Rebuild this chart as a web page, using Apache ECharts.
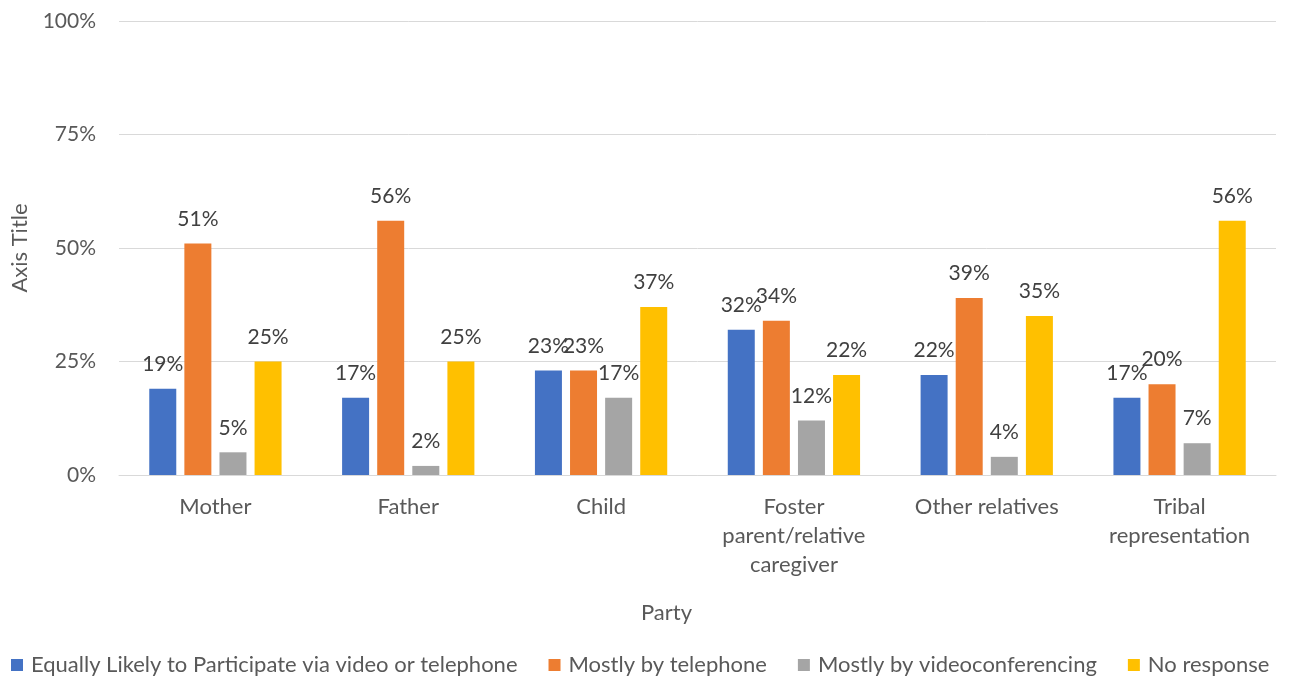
<!DOCTYPE html>
<html>
<head>
<meta charset="utf-8">
<script src="https://cdn.jsdelivr.net/npm/echarts@6/dist/echarts.min.js"></script>
<style>
  html, body { margin: 0; padding: 0; background: #fff; }
  #chart { width: 1290px; height: 677px; }
</style>
</head>
<body>
<div id="chart"></div>
<script>
// Parties (axis categories, wrapped as they are shown)
const categories = [
  'Mother',
  'Father',
  'Child',
  'Foster\nparent/relative\ncaregiver',
  'Other relatives',
  'Tribal\nrepresentation'
];

// Share of responses per party, in percent
const equallyLikely = [19, 17, 23, 32, 22, 17];
const mostlyTelephone = [51, 56, 23, 34, 39, 20];
const mostlyVideo = [5, 2, 17, 12, 4, 7];
const noResponse = [25, 25, 37, 22, 35, 56];

const seriesNames = [
  'Equally Likely to Participate via video or telephone',
  'Mostly by telephone',
  'Mostly by videoconferencing',
  'No response'
];
const seriesColors = ['#4472C4', '#ED7D31', '#A5A5A5', '#FFC000'];
const seriesData = [equallyLikely, mostlyTelephone, mostlyVideo, noResponse];

const yTicks = [0, 25, 50, 75, 100];

const FONT = 'Lato, "Open Sans", sans-serif';
const NUM_SIZE = 21;
const WORD_SIZE = 22;

const chart = echarts.init(document.getElementById('chart'), null, { renderer: 'canvas' });

chart.setOption({
  animation: false,
  textStyle: { fontFamily: FONT },
  grid: { left: 119, right: 14, top: 21, bottom: 202, containLabel: false },
  legend: {
    top: 649,
    left: 6,
    itemWidth: 12,
    itemHeight: 12,
    itemGap: 31,
    icon: 'rect',
    textStyle: { fontFamily: FONT, fontSize: WORD_SIZE, color: '#595959', padding: [0, 0, 0, 3] },
    data: seriesNames
  },
  xAxis: {
    type: 'category',
    data: categories,
    name: 'Party',
    nameLocation: 'middle',
    nameGap: 127,
    nameTextStyle: { fontFamily: FONT, fontSize: WORD_SIZE, color: '#595959', padding: [0, 62, 0, 0] },
    axisLine: { lineStyle: { color: '#D9D9D9', width: 1 } },
    axisTick: { show: false },
    axisLabel: {
      fontFamily: FONT,
      fontSize: WORD_SIZE,
      color: '#595959',
      margin: 17,
      lineHeight: 29,
      interval: 0
    }
  },
  yAxis: {
    type: 'value',
    min: 0,
    max: 100,
    interval: 25,
    name: 'Axis Title',
    nameLocation: 'middle',
    nameGap: 88,
    nameRotate: 90,
    nameTextStyle: { fontFamily: FONT, fontSize: WORD_SIZE, color: '#595959' },
    axisLine: { show: false },
    axisTick: { show: false },
    splitLine: { lineStyle: { color: '#D9D9D9', width: 1 } },
    axisLabel: {
      fontFamily: FONT,
      fontSize: NUM_SIZE,
      color: '#595959',
      margin: 23,
      formatter: v => (yTicks.includes(v) ? v + '%' : '')
    }
  },
  series: seriesNames.map((name, i) => ({
    name: name,
    type: 'bar',
    data: seriesData[i],
    barWidth: 27,
    barGap: '30%',
    itemStyle: { color: seriesColors[i] },
    label: {
      show: true,
      position: 'top',
      distance: 14,
      fontFamily: FONT,
      fontSize: NUM_SIZE,
      color: '#404040',
      formatter: p => p.value + '%'
    }
  }))
});
</script>
</body>
</html>
